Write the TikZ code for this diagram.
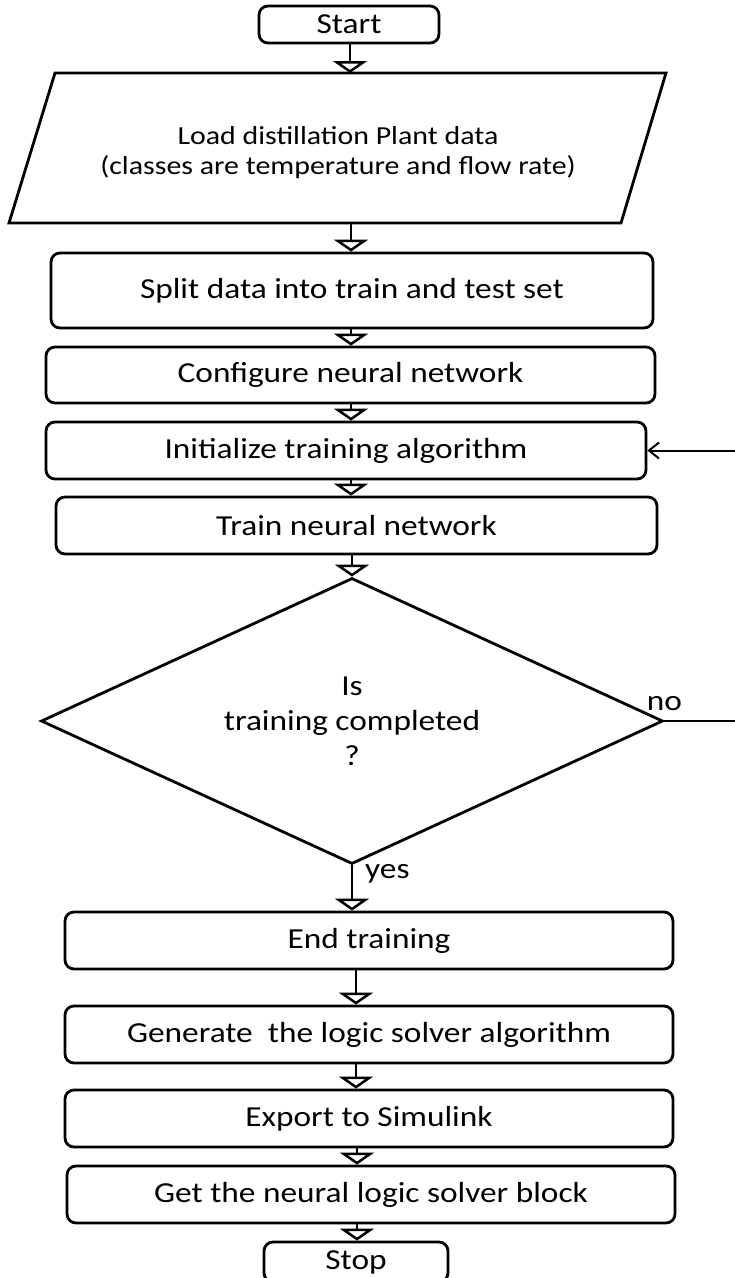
\documentclass[tikz,border=0pt]{standalone}
\usepackage{fontspec}
\setmainfont[FakeStretch=1.15]{Carlito}
\usetikzlibrary{arrows.meta,shapes.geometric,calc}
\begin{document}
\begin{tikzpicture}[x=1pt,y=-1pt,
  shapeline/.style={line width=2.8pt},
  box/.style={draw, shapeline, rounded corners=9pt, inner sep=0pt,
    font=\fontsize{29}{35}\selectfont},
  txt/.style={inner sep=0pt, font=\fontsize{29}{35}\selectfont},
  flow/.style={line width=2.5pt,
    -{Triangle[open, width=34pt, length=12pt, line width=2.5pt]}},
  back/.style={line width=2pt, -{Straight Barb[length=10pt, width=16pt, line width=2pt]}},
]
\useasboundingbox (0,0) rectangle (735,1278);
\clip (0,0) rectangle (735,1278);

% columns for the vertical connectors
\coordinate (c1) at (350,0);
\coordinate (c2) at (351,0);
\coordinate (c3) at (352,0);
\coordinate (c4) at (356,0);
\coordinate (c5) at (357,0);
\coordinate (loopx) at (760,0);

% nodes
\node[box, minimum width=180pt, minimum height=37pt] (start) at (349,24.5) {Start};

\draw[shapeline, line join=miter] (55,73) -- (666,73) -- (621,223) -- (9,223) -- cycle;
\coordinate (loadtop) at (338,73);
\coordinate (loadbot) at (338,223);
\node[inner sep=0pt, align=center,
  font=\fontsize{26}{30}\selectfont] (load) at (338,153)
  {Load distillation Plant data\\(classes are temperature and flow rate)};

\node[box, minimum width=602pt, minimum height=75pt] (split) at (352,290.5) {Split data into train and test set};
\node[box, minimum width=609pt, minimum height=56pt] (config) at (350.5,375) {Configure neural network};
\node[box, minimum width=600pt, minimum height=57pt] (init) at (346,450.5) {Initialize training algorithm};
\node[box, minimum width=601pt, minimum height=57pt] (train) at (356.5,525.5) {Train neural network};

\node[draw, shapeline, diamond, minimum width=622pt, minimum height=286pt, inner sep=0pt] (dec) at (352,721) {};
\node[txt, align=center] (dectext) at (dec.center) {Is\\training completed\\?};

\node[box, minimum width=608pt, minimum height=57pt] (end) at (369,940.5) {End training};
\node[box, minimum width=608pt, minimum height=57pt] (gen) at (369,1034.5) {Generate\ \ the logic solver algorithm};
\node[box, minimum width=608pt, minimum height=57pt] (export) at (369,1118.5) {Export to Simulink};
\node[box, minimum width=608pt, minimum height=57pt] (get) at (371,1194.5) {Get the neural logic solver block};
\node[box, minimum width=184pt, minimum height=40pt] (stop) at (356,1262) {Stop};

% connectors
\draw[flow] (start.south -| c1) -- (loadtop -| c1);
\draw[flow] (loadbot -| c2) -- (split.north -| c2);
\draw[flow] (split.south -| c2) -- (config.north -| c2);
\draw[flow] (config.south -| c2) -- (init.north -| c2);
\draw[flow] (init.south -| c2) -- (train.north -| c2);
\draw[flow] (train.south -| c3) -- (dec.north);
\draw[flow] (dec.south) -- (end.north -| dec.south);
\draw[flow] (end.south -| c4) -- (gen.north -| c4);
\draw[flow] (gen.south -| c4) -- (export.north -| c4);
\draw[flow] (export.south -| c5) -- (get.north -| c5);
\draw[flow] (get.south -| c5) -- (stop.north -| c5);

% loop back
\draw[back] (dec.east) -- (dec.east -| loopx) -- (init.east -| loopx) -- (init.east);

% labels
\node[txt, anchor=base] (nolbl) at ($(dec.east)+(0,-11)$) {no};
\node[txt, anchor=base west] (yeslbl) at ($(dec.south)+(13,13)$) {yes};
\end{tikzpicture}
\end{document}
